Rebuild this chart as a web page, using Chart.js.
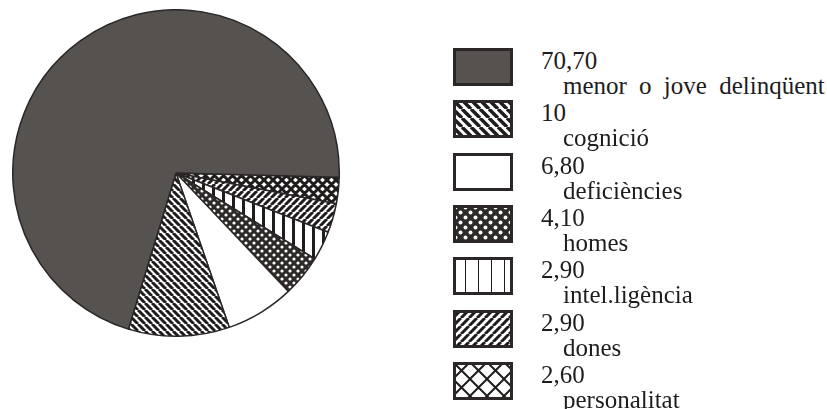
<!DOCTYPE html>
<html>
<head>
<meta charset="utf-8">
<script src="https://cdn.jsdelivr.net/npm/chart.js@4.4.1/dist/chart.umd.min.js"></script>
<style>
  html, body { margin: 0; padding: 0; background: #ffffff; width: 827px; height: 409px; overflow: hidden; }
  #pieWrap { position: absolute; left: 12px; top: 9px; width: 328px; height: 328px; }
  .sw { position: absolute; left: 453px; width: 60px; height: 38px; }
  .txt { position: absolute; font-family: "Liberation Serif", "Times New Roman", serif; font-size: 25px; line-height: 25px; color: #1e1c1c; white-space: nowrap; word-spacing: 6px; }
</style>
</head>
<body>
<div id="pieWrap"><canvas id="pie"></canvas></div>
<div id="legend"></div>
<script>
// ---- data (legend order) ----
const labels = ['menor o jove delinqüent', 'cognició', 'deficiències', 'homes', 'intel.ligència', 'dones', 'personalitat'];
const values = [70.7, 10, 6.8, 4.1, 2.9, 2.9, 2.6];
const valueLabels = ['70,70', '10', '6,80', '4,10', '2,90', '2,90', '2,60'];
const fillKinds = ['solid', 'backslash', 'blank', 'dots', 'vbars', 'slash', 'cross'];

const DARK = '#565250';
const INK = '#1f1c1c';

function makePattern(ctx, kind, s) {
  const c = document.createElement('canvas');
  const g = c.getContext('2d');
  let p;
  switch (kind) {
    case 'solid': return DARK;
    case 'blank': return '#ffffff';
    case 'backslash':
    case 'slash': {
      p = s.p; c.width = p; c.height = p;
      g.fillStyle = '#fff'; g.fillRect(0, 0, p, p);
      g.strokeStyle = INK; g.lineWidth = s.w; g.beginPath();
      for (const o of [-p, 0, p]) {
        if (kind === 'backslash') { g.moveTo(o, 0); g.lineTo(o + p, p); }
        else { g.moveTo(o, p); g.lineTo(o + p, 0); }
      }
      g.stroke();
      break;
    }
    case 'vbars': {
      p = s.p; c.width = p; c.height = 4;
      g.fillStyle = '#fff'; g.fillRect(0, 0, p, 4);
      g.fillStyle = INK; g.fillRect(s.off, 0, s.w, 4);
      break;
    }
    case 'dots': {
      p = s.p; c.width = p; c.height = p;
      g.fillStyle = '#2e2a2a'; g.fillRect(0, 0, p, p);
      g.fillStyle = '#fff';
      for (const [x, y] of [[p * 0.25, p * 0.25], [p * 0.75, p * 0.75]]) {
        g.beginPath(); g.arc(x, y, s.r, 0, Math.PI * 2); g.fill();
      }
      break;
    }
    case 'cross': {
      p = s.p; c.width = p; c.height = p;
      g.fillStyle = '#fff'; g.fillRect(0, 0, p, p);
      g.strokeStyle = INK; g.lineWidth = s.w; g.beginPath();
      for (const o of [-p, 0, p]) {
        g.moveTo(o, 0); g.lineTo(o + p, p);
        g.moveTo(o, p); g.lineTo(o + p, 0);
      }
      g.stroke();
      break;
    }
  }
  return ctx.createPattern(c, 'repeat');
}

const pieScale = {
  backslash: { p: 7, w: 3 }, slash: { p: 7, w: 3 }, vbars: { p: 10, w: 3, off: 0 },
  dots: { p: 8, r: 1.6 }, cross: { p: 9, w: 3 }
};
const legScale = {
  backslash: { p: 9, w: 3.5 }, slash: { p: 8, w: 3 }, vbars: { p: 13, w: 3, off: 12 },
  dots: { p: 10, r: 2 }, cross: { p: 17, w: 2 }
};

// ---- pie (drawn clockwise from 3 o'clock, small slices first) ----
const pieCanvas = document.getElementById('pie');
const pctx = pieCanvas.getContext('2d');
const order = labels.map((_, i) => i).reverse();
new Chart(pieCanvas, {
  type: 'pie',
  data: {
    labels: order.map(i => labels[i]),
    datasets: [{
      data: order.map(i => values[i]),
      backgroundColor: order.map(i => makePattern(pctx, fillKinds[i], pieScale[fillKinds[i]])),
      borderColor: '#2b2727',
      borderWidth: 1.5
    }]
  },
  options: {
    responsive: true,
    maintainAspectRatio: false,
    animation: false,
    events: [],
    rotation: 91.5,
    layout: { padding: 0 },
    plugins: { legend: { display: false }, tooltip: { enabled: false } }
  }
});

// ---- legend ----
const legend = document.getElementById('legend');
const top0 = 48, pitch = 52.3;
labels.forEach((lab, i) => {
  const T = Math.round(top0 + i * pitch);
  const cv = document.createElement('canvas');
  cv.width = 60; cv.height = 38; cv.className = 'sw'; cv.style.top = T + 'px';
  const g = cv.getContext('2d');
  g.fillStyle = makePattern(g, fillKinds[i], legScale[fillKinds[i]]);
  g.fillRect(0, 0, 60, 38);
  g.strokeStyle = '#2b2727'; g.lineWidth = 3;
  g.strokeRect(1.5, 1.5, 57, 35);
  legend.appendChild(cv);

  const v = document.createElement('div');
  v.className = 'txt'; v.style.left = '541px'; v.style.top = T + 'px';
  v.textContent = valueLabels[i];
  legend.appendChild(v);

  const l = document.createElement('div');
  l.className = 'txt'; l.style.left = '563px'; l.style.top = (T + 25) + 'px';
  l.textContent = lab;
  legend.appendChild(l);
});
</script>
</body>
</html>
